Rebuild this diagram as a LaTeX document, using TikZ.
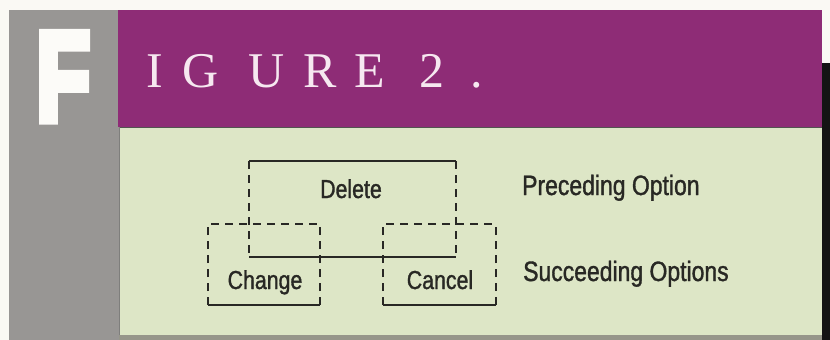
\documentclass[tikz,border=0pt]{standalone}
\usepackage{fontspec}
\setmainfont{Liberation Serif}
\newfontfamily\cond[FakeStretch=0.82,FakeBold=1.2]{Liberation Sans}
\newfontface\heavyF[FakeBold=7]{Liberation Sans Bold}
\newfontfamily\titlefont{Liberation Serif}
\definecolor{paper}{RGB}{250,249,244}
\definecolor{stripgray}{RGB}{152,150,148}
\definecolor{purp}{RGB}{142,44,118}
\definecolor{greenbg}{RGB}{221,230,198}
\definecolor{edgecol}{RGB}{150,150,138}
\definecolor{inkline}{RGB}{40,40,36}
\definecolor{titlecol}{RGB}{246,232,240}
\definecolor{Fwhite}{RGB}{252,251,248}
\tikzset{
  boxarea/.style={draw=none,inner sep=0pt,outer sep=0pt},
  solidedge/.style={draw=inkline,line width=1.3pt},
  dashedge/.style={draw=inkline,line width=1.3pt,dash pattern=on 8pt off 6pt},
  boxlabel/.style={anchor=base,inner sep=0pt,text=inkline,font=\cond\fontsize{26}{30}\selectfont},
  sidelabel/.style={anchor=base west,inner sep=0pt,text=inkline,font=\cond\fontsize{28}{32}\selectfont},
  titleletter/.style={anchor=base,inner sep=0pt,text=titlecol,font=\titlefont\fontsize{50}{56}\selectfont}
}
\begin{document}
\begin{tikzpicture}[x=1pt,y=-1pt]
\useasboundingbox (0,0) rectangle (830,340);
\fill[paper] (0,0) rectangle (830,340);
% gray strip
\fill[stripgray] (9,10) rectangle (119,340);
% purple band
\fill[purp] (118,10) rectangle (822,127);
% green panel
\fill[greenbg] (119,127) rectangle (822,335);
\fill[edgecol] (119,335) rectangle (822,340);
\draw[inkline!80,line width=1pt] (119,127.5) -- (822,127.5);
\draw[inkline!60,line width=0.8pt] (119.6,127) -- (119.6,335);
% black bar
\fill[black!92] (822,63) rectangle (830,340);
% big F
\node[anchor=north west,inner sep=0pt,text=Fwhite] (bigF) at (36,33) {\resizebox{54pt}{87pt}{\heavyF F}};
% title
\node[titleletter] (tI) at (155,87) {I};
\node[titleletter] (tG) at (201,87) {G};
\node[titleletter] (tU) at (267,87) {U};
\node[titleletter] (tR) at (320,87) {R};
\node[titleletter] (tE) at (370,87) {E};
\node[titleletter] (t2) at (432,87) {2};
\node[titleletter] (tdot) at (477,87) {.};
% boxes
\node[boxarea,minimum width=207pt,minimum height=96pt] (delbox) at (352.5,209) {};
\node[boxarea,minimum width=112pt,minimum height=81pt] (chgbox) at (264,264.5) {};
\node[boxarea,minimum width=113pt,minimum height=81pt] (canbox) at (439.5,264.5) {};
% delete box
\draw[solidedge] (delbox.north west) -- (delbox.north east);
\draw[solidedge] (delbox.south west) -- (delbox.south east);
\draw[dashedge] (delbox.north west) -- (delbox.south west);
\draw[dashedge] (delbox.north east) -- (delbox.south east);
% change box
\draw[solidedge] (chgbox.south west) -- (chgbox.south east);
\draw[dashedge] (chgbox.south west) -- (chgbox.north west) -- (chgbox.north east);
\draw[dashedge] (chgbox.south east) -- (chgbox.north east);
% cancel box
\draw[solidedge] (canbox.south west) -- (canbox.south east);
\draw[dashedge] (canbox.south west) -- (canbox.north west) -- (canbox.north east);
\draw[dashedge] (canbox.south east) -- (canbox.north east);
% labels
\node[boxlabel] (delete) at (351,198) {Delete};
\node[boxlabel] (change) at (265,289) {Change};
\node[boxlabel] (cancel) at (440,289) {Cancel};
\node[sidelabel] (prec) at (522,195) {Preceding Option};
\node[sidelabel] (succ) at (523,281) {Succeeding Options};
\end{tikzpicture}
\end{document}
